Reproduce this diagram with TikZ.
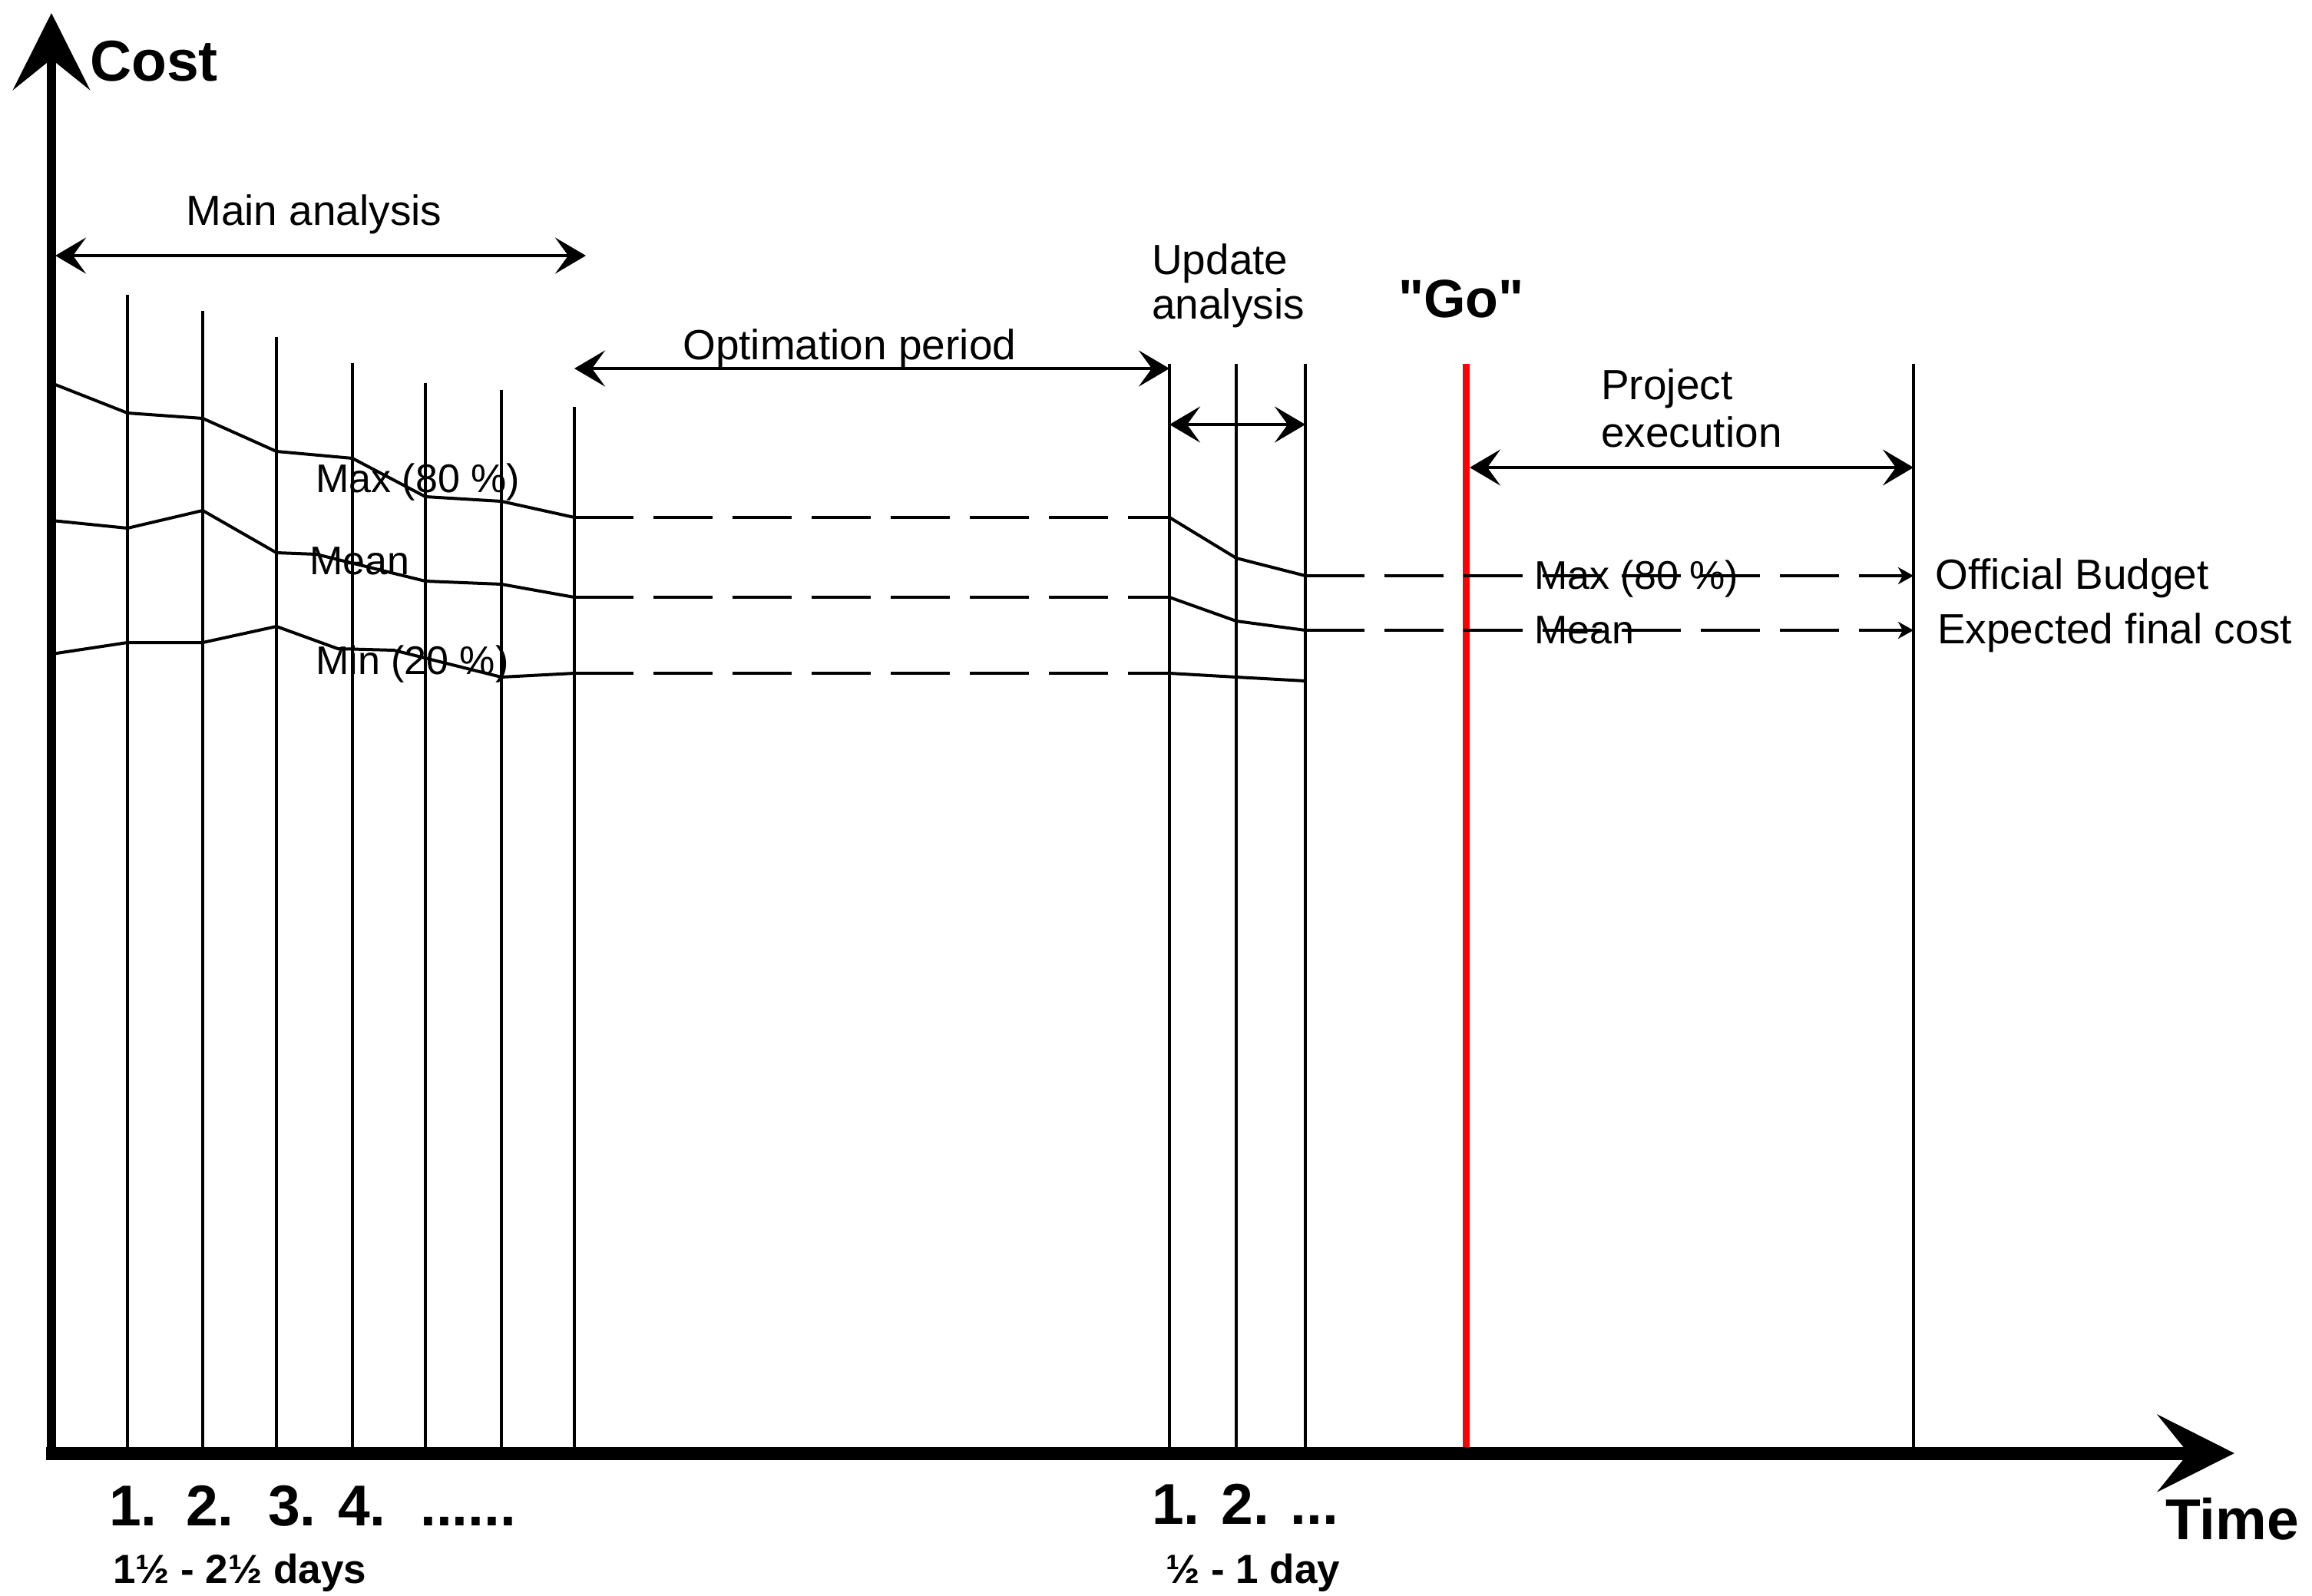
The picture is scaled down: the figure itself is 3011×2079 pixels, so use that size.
\documentclass[tikz,border=0pt]{standalone}
\usepackage{fontspec}
\setmainfont{Liberation Sans}
\newfontfamily\gofont{Liberation Sans}[Ligatures=TeXOff]
\usetikzlibrary{arrows.meta}
\tikzset{
  divline/.style={line width=4pt},
  costcurve/.style={line width=4pt, line join=round},
  dashline/.style={line width=4pt, dash pattern=on 77pt off 26pt},
  spanarrow/.style={line width=4.5pt, {Stealth[length=40pt,width=47pt,inset=17pt]}-{Stealth[length=40pt,width=47pt,inset=17pt]}},
  axistip/.style={-{Stealth[length=100pt,width=100pt,inset=40pt]}},
  smalltip/.style={-{Stealth[length=20pt,width=22pt,inset=6pt]}},
  lbl/.style={inner sep=0pt, anchor=base west, font=\fontsize{55}{60}\selectfont},
  slbl/.style={inner sep=0pt, anchor=base west, font=\fontsize{52}{58}\selectfont},
  blbl/.style={inner sep=0pt, anchor=base west, font=\bfseries\fontsize{75}{80}\selectfont},
  bslbl/.style={inner sep=0pt, anchor=base west, font=\bfseries\fontsize{53}{58}\selectfont},
}
\begin{document}
\begin{tikzpicture}[x=1pt,y=-1pt]
\useasboundingbox (0,0) rectangle (3011,2079);
% ---- axes coordinates
\coordinate (origin) at (60,1893);
\coordinate (xend) at (2910,1893);
\coordinate (ybot) at (67,1902);
\coordinate (yend) at (67,17);
% ---- vertical dividers (main analysis)
\foreach \x/\t in {166/384, 264/405, 360/439, 459/473, 554/499, 653/508, 748/530}{
  \draw[divline] (\x,\t) -- (\x,1886);
}
% update analysis dividers and end of project
\foreach \x in {1523, 1610, 1700, 2492}{
  \draw[divline] (\x,474) -- (\x,1886);
}
% "Go" line
\draw[line width=9pt, red] (1909.5,474) -- (1909.5,1886);
% ---- cost curves, main analysis
\draw[costcurve] (67,499) -- (166,538) -- (264,545) -- (360,588) -- (459,597) -- (554,647) -- (653,653) -- (748,674);
\draw[costcurve] (67,678) -- (166,688) -- (264,665) -- (360,720) -- (412,722) -- (554,757) -- (653,761) -- (748,778);
\draw[costcurve] (67,852) -- (166,837) -- (264,837) -- (360,816) -- (440,845) -- (513,847) -- (653,882) -- (748,877);
% optimation period (dashed)
\draw[dashline] (748,674) -- (1523,674);
\draw[dashline] (748,778) -- (1523,778);
\draw[dashline] (748,877) -- (1523,877);
% update analysis curves
\draw[costcurve] (1523,674) -- (1610,727) -- (1700,750);
\draw[costcurve] (1523,778) -- (1610,809) -- (1700,821);
\draw[costcurve] (1523,877) -- (1610,882) -- (1700,887);
% project execution (dashed, arrows)
\coordinate (budgetend) at (2492,750);
\coordinate (expend) at (2492,821);
\draw[dashline, smalltip] (1700,750) -- (budgetend);
\draw[dashline, smalltip] (1700,821) -- (expend);
% ---- span arrows
\coordinate (ma1) at (72,333);   \coordinate (ma2) at (763,333);
\coordinate (op1) at (748,480);  \coordinate (op2) at (1523,480);
\coordinate (up1) at (1523,553); \coordinate (up2) at (1700,553);
\coordinate (pe1) at (1914,609); \coordinate (pe2) at (2492,609);
\draw[spanarrow] (ma1) -- (ma2);
\draw[spanarrow] (op1) -- (op2);
\draw[spanarrow] (up1) -- (up2);
\draw[spanarrow] (pe1) -- (pe2);
% ---- axes
\draw[line width=17pt, axistip] (origin) -- (xend);
\draw[line width=12pt, axistip] (ybot) -- (yend);
% ---- texts
\node[blbl] (cost) at (117,106) {Cost};
\node[blbl] (time) at (2820,2005) {Time};
\node[lbl] (main) at (242,293) {Main analysis};
\node[lbl] (optim) at (889,468) {Optimation period};
\node[lbl] (upd1) at (1500,357) {Update};
\node[lbl] (upd2) at (1500,415) {analysis};
\node[inner sep=0pt, anchor=base west, font=\gofont\bfseries\fontsize{70}{75}\selectfont] (go) at (1821,413) {"Go"};
\node[lbl] (proj1) at (2085,520) {Project};
\node[lbl] (proj2) at (2085,582) {execution};
\node[slbl] (maxl) at (411,641) {Max (80 \%)};
\node[slbl] (meanl) at (403,748) {Mean};
\node[slbl] (minl) at (411,878) {Min (20 \%)};
\node[slbl] (maxr) at (1998,767) {Max (80 \%)};
\node[slbl] (meanr) at (1998,838) {Mean};
\node[lbl] (budget) at (2520,767) {Official Budget};
\node[lbl] (expected) at (2523,838) {Expected final cost};
\node[blbl] (n1) at (142,1987) {1.};
\node[blbl] (n2) at (242,1987) {2.};
\node[blbl] (n3) at (349,1987) {3.};
\node[blbl] (n4) at (440,1987) {4.};
\node[blbl] (ndots) at (547,1987) {......};
\node[bslbl] (days) at (147,2062) {1½ - 2½ days};
\node[blbl] (u12) at (1500,1985) {1. 2. ...};
\node[bslbl] (day) at (1518,2062) {½ - 1 day};
\end{tikzpicture}
\end{document}
